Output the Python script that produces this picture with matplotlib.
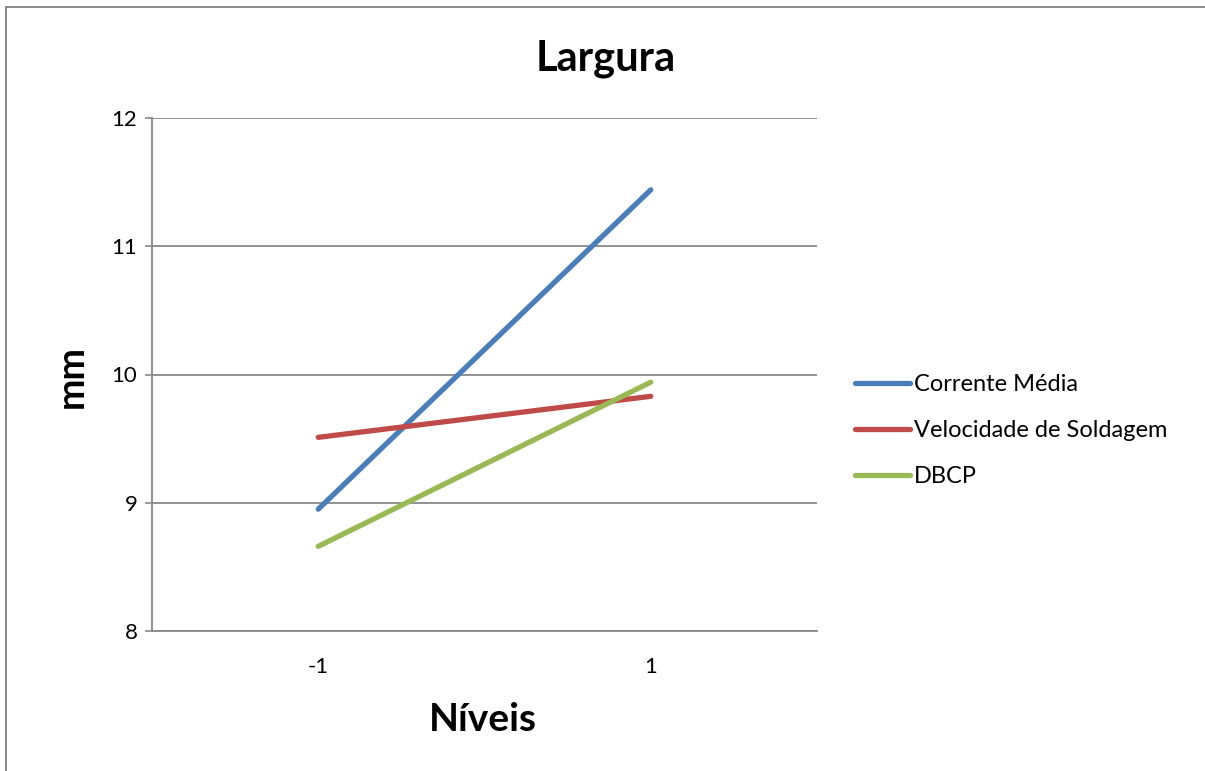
import matplotlib
matplotlib.use("Agg")
import matplotlib.pyplot as plt
from matplotlib.lines import Line2D

plt.rcParams['font.family'] = ['Lato', 'DejaVu Sans']

categories = ["-1", "1"]
series_names = ["Corrente Média", "Velocidade de Soldagem", "DBCP"]
corrente = [8.95, 11.44]
velocidade = [9.51, 9.83]
dbcp = [8.66, 9.94]
colors = ["#4A7EBB", "#BE4B48", "#98B954"]
yticks = [8, 9, 10, 11, 12]

W, H = 1205, 771
fig = plt.figure(figsize=(W / 100, H / 100), dpi=100)
ax = fig.add_axes([152 / W, 1 - 631 / H, (817 - 152) / W, (631 - 118) / H])

x = list(range(len(categories)))
for vals, name, c in zip([corrente, velocidade, dbcp], series_names, colors):
    ax.plot(x, vals, color=c, lw=3.8, solid_capstyle='round', label=name, zorder=3)

ax.set_xlim(-0.5, 1.5)
ax.set_ylim(8, 12)
ax.set_yticks(yticks)
ax.set_yticklabels([str(t) for t in yticks], fontsize=16)
ax.set_xticks(x)
ax.set_xticklabels(categories, fontsize=16)
ax.tick_params(axis='x', length=0, pad=19)
ax.tick_params(axis='y', length=5, color='#888888', width=1.2, pad=5.5, direction='out')
ax.grid(axis='y', color='#888888', lw=1.3)
ax.set_axisbelow(True)
for s in ['top', 'right']:
    ax.spines[s].set_visible(False)
for s in ['left', 'bottom']:
    ax.spines[s].set_color('#888888')
    ax.spines[s].set_linewidth(1.3)

fig.text(606 / W, 1 - 70 / H, "Largura", fontsize=30, fontweight='bold',
         ha='center', va='baseline')
ax.set_xlabel("Níveis", fontsize=28, fontweight='bold')
ax.xaxis.label.set_va('baseline')
ax.xaxis.set_label_coords((483 - 152) / 665, -(731 - 631) / 513)
ax.set_ylabel("mm", fontsize=27, fontweight='bold')
ax.yaxis.label.set_va('baseline')
ax.yaxis.set_label_coords((83 - 152) / 665, (631 - 377) / 513)

leg = ax.legend(loc='center left', bbox_to_anchor=((855 - 152) / 665, (631 - 430.5) / 513),
                frameon=False, fontsize=17, handlelength=2.35, handletextpad=0.13,
                labelspacing=1.05, borderpad=0, borderaxespad=0)

# chart border (top and left visible)
fig.add_artist(Line2D([6 / W, 6 / W], [0, 1 - 7 / H], transform=fig.transFigure,
                      color='#888888', lw=1.4))
fig.add_artist(Line2D([6 / W, 1], [1 - 7 / H, 1 - 7 / H], transform=fig.transFigure,
                      color='#888888', lw=1.4))

fig.savefig("out.png", dpi=100)
